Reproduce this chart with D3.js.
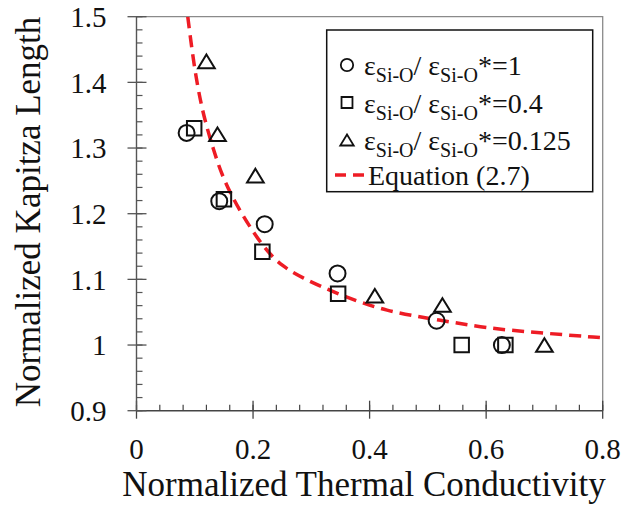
<!DOCTYPE html>
<html>
<head>
<meta charset="utf-8">
<script src="https://cdn.jsdelivr.net/npm/d3@7"></script>
<style>
  body { margin: 0; background: #fff; }
  svg { font-family: "Liberation Serif", "Times New Roman", serif; }
</style>
</head>
<body>
<div id="chart"></div>
<script>
var circleX = [0.086, 0.142, 0.220, 0.345, 0.515, 0.627];
var circleY = [1.323, 1.219, 1.184, 1.109, 1.037, 1.0];
var squareX = [0.099, 0.150, 0.216, 0.346, 0.558, 0.633];
var squareY = [1.330, 1.222, 1.142, 1.078, 1.0, 1.0];
var triangleX = [0.120, 0.139, 0.204, 0.409, 0.525, 0.700];
var triangleY = [1.432, 1.321, 1.258, 1.075, 1.061, 1.0];
var equationX = [0.088, 0.098, 0.112, 0.132, 0.155, 0.217, 0.252, 0.280, 0.349, 0.429, 0.515, 0.600, 0.700, 0.8];
var equationY = [1.5, 1.429, 1.358, 1.297, 1.236, 1.147, 1.119, 1.104, 1.076, 1.051, 1.039, 1.0255, 1.018, 1.011];
var ratios = ["1", "0.4", "0.125"];
var xTicks = [0, 0.2, 0.4, 0.6, 0.8];
var yTicks = [0.9, 1, 1.1, 1.2, 1.3, 1.4, 1.5];

var width = 625,
  height = 506;
var margin = {left: 136.5, top: 16.7, right: 22.3, bottom: 95.3};
var w = width - margin.left - margin.right,
  h = height - margin.top - margin.bottom;

var x = d3.scaleLinear().domain([0, 0.8]).range([0, w]);
var y = d3.scaleLinear().domain([0.9, 1.5]).range([h, 0]);

// triangle centred on its bounding box, like the original markers
var triBox = {
  draw: function (context, size) {
    var s = Math.sqrt(size);
    context.moveTo(0, -s * 0.45);
    context.lineTo(s * 0.55, s * 0.45);
    context.lineTo(-s * 0.55, s * 0.45);
    context.closePath();
  }
};

var svg = d3.select("#chart").append("svg")
  .attr("width", width)
  .attr("height", height);

var g = svg.append("g")
  .attr("transform", "translate(" + margin.left + "," + margin.top + ")");

// frame top and right
g.append("path")
  .attr("d", "M0,0H" + w + "V" + h)
  .attr("fill", "none")
  .attr("stroke", "#8a8a8a")
  .attr("stroke-width", 1.3);

// x axis
var xa = g.append("g").attr("transform", "translate(0," + h + ")");
xa.append("line").attr("x1", 0).attr("x2", w).attr("stroke", "#444").attr("stroke-width", 1.4);
xa.selectAll(".minor")
  .data(d3.range(0, 0.8001, 0.04))
  .enter().append("line")
  .attr("x1", d => x(d)).attr("x2", d => x(d))
  .attr("y1", 0).attr("y2", -6)
  .attr("stroke", "#444").attr("stroke-width", 1.2);
xa.selectAll(".major")
  .data(xTicks)
  .enter().append("line")
  .attr("x1", d => x(d)).attr("x2", d => x(d))
  .attr("y1", 8).attr("y2", -10)
  .attr("stroke", "#444").attr("stroke-width", 1.3);
xa.selectAll(".lbl")
  .data(xTicks)
  .enter().append("text")
  .attr("x", d => x(d))
  .attr("y", 48)
  .attr("text-anchor", "middle")
  .attr("font-size", 29)
  .attr("fill", "#111")
  .text(d => d3.format("")(d));

// y axis
var ya = g.append("g");
ya.append("line").attr("y1", 0).attr("y2", h).attr("stroke", "#555").attr("stroke-width", 1.4);
ya.selectAll(".minor")
  .data(d3.range(0.9, 1.5001, 0.02))
  .enter().append("line")
  .attr("y1", d => y(d)).attr("y2", d => y(d))
  .attr("x1", 0).attr("x2", 6)
  .attr("stroke", "#555").attr("stroke-width", 1.2);
ya.selectAll(".major")
  .data(yTicks)
  .enter().append("line")
  .attr("y1", d => y(d)).attr("y2", d => y(d))
  .attr("x1", -9).attr("x2", 10)
  .attr("stroke", "#555").attr("stroke-width", 1.3);
ya.selectAll(".lbl")
  .data(yTicks)
  .enter().append("text")
  .attr("x", -30)
  .attr("y", d => y(d))
  .attr("dy", "0.35em")
  .attr("text-anchor", "end")
  .attr("font-size", 29)
  .attr("fill", "#111")
  .text(d => d3.format("")(d));

// axis titles
svg.append("text")
  .attr("x", 364)
  .attr("y", 496)
  .attr("text-anchor", "middle")
  .attr("font-size", 35)
  .attr("fill", "#111")
  .text("Normalized Thermal Conductivity");

svg.append("text")
  .attr("transform", "translate(40,212) rotate(-90)")
  .attr("text-anchor", "middle")
  .attr("font-size", 35)
  .attr("fill", "#111")
  .text("Normalized Kapitza Length");

// equation curve
g.append("defs").append("clipPath").attr("id", "clip")
  .append("rect").attr("width", w).attr("height", h);

var line = d3.line()
  .x((d, i) => x(equationX[i]))
  .y(d => y(d))
  .curve(d3.curveBasis);

g.append("path")
  .datum(equationY)
  .attr("clip-path", "url(#clip)")
  .attr("d", line)
  .attr("fill", "none")
  .attr("stroke", "#ee1c25")
  .attr("stroke-width", 3.5)
  .attr("stroke-dasharray", "12,7");

// markers
var series = [
  {xs: circleX, ys: circleY, type: d3.symbolCircle, size: 200},
  {xs: squareX, ys: squareY, type: d3.symbolSquare, size: 210},
  {xs: triangleX, ys: triangleY, type: triBox, size: 230}
];

series.forEach(function (s) {
  g.selectAll(null)
    .data(s.ys)
    .enter().append("path")
    .attr("transform", (d, i) => "translate(" + x(s.xs[i]) + "," + y(d) + ")")
    .attr("d", d3.symbol().type(s.type).size(s.size))
    .attr("fill", "none")
    .attr("stroke", "#111")
    .attr("stroke-width", 2);
});

// legend
var lg = svg.append("g");
lg.append("rect")
  .attr("x", 326.7).attr("y", 30)
  .attr("width", 266).attr("height", 161.7)
  .attr("fill", "#fff")
  .attr("stroke", "#111")
  .attr("stroke-width", 1.5);

var rows = lg.selectAll(".row")
  .data(ratios)
  .enter().append("g")
  .attr("transform", (d, i) => "translate(0," + (65 + i * 37.5) + ")");

rows.append("path")
  .attr("transform", "translate(347,0)")
  .attr("d", (d, i) => d3.symbol().type(series[i].type).size(series[i].type === triBox ? 150 : 120)())
  .attr("fill", "none")
  .attr("stroke", "#111")
  .attr("stroke-width", 1.8);

var txt = rows.append("text")
  .attr("x", 364)
  .attr("y", 10)
  .attr("font-size", 28)
  .attr("fill", "#111");
txt.append("tspan").text("\u03b5");
txt.append("tspan").attr("font-size", 20).attr("dy", 7).text("Si-O");
txt.append("tspan").attr("dy", -7).text("/ \u03b5");
txt.append("tspan").attr("font-size", 20).attr("dy", 7).text("Si-O");
txt.append("tspan").attr("dy", -7).text(d => "*=" + d);

lg.append("line")
  .attr("x1", 335).attr("x2", 367)
  .attr("y1", 175).attr("y2", 175)
  .attr("stroke", "#ee1c25")
  .attr("stroke-width", 3.5)
  .attr("stroke-dasharray", "11,7");

lg.append("text")
  .attr("x", 368)
  .attr("y", 185)
  .attr("font-size", 28)
  .attr("fill", "#111")
  .text("Equation (2.7)");
</script>
</body>
</html>
